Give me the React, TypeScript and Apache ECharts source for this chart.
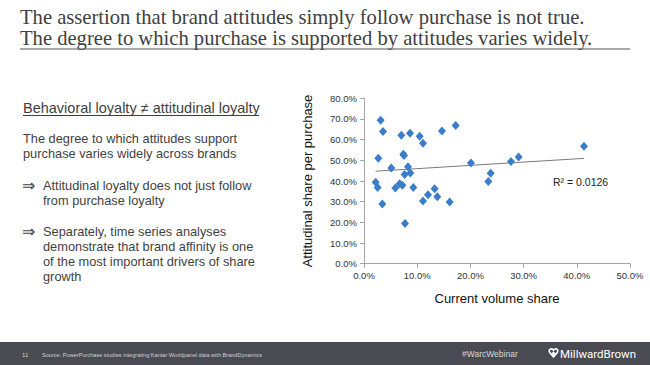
import React, { useEffect, useRef } from "react";
import * as echarts from "echarts";

const volumeShare: number[] = [
  3.13, 3.57, 2.69, 2.19, 2.57, 3.45, 5.14, 5.89, 6.7, 7.21, 7.02, 8.65, 7.39, 7.52, 7.64, 8.27, 8.71,
  9.27, 7.71, 10.46, 11.09, 11.09, 12.03, 13.28, 13.78, 14.66, 16.1, 17.23, 20.11, 23.37, 23.81, 27.63,
  29.07, 41.35,
];
const attitudinalShare: number[] = [
  69.4, 64.0, 51.0, 39.4, 36.8, 28.9, 46.3, 36.6, 38.7, 37.9, 62.1, 63.1, 52.9, 52.3, 43.2, 46.9, 43.9,
  36.8, 19.5, 61.6, 58.2, 30.3, 33.4, 36.3, 32.4, 64.2, 29.8, 66.9, 48.7, 39.7, 43.7, 49.4, 51.6, 56.8,
];
const rSquaredLabel = "R² = 0.0126";
const titleLines = [
  "The assertion that brand attitudes simply follow purchase is not true.",
  "The degree to which purchase is supported by attitudes varies widely.",
];
const heading = "Behavioral loyalty ≠ attitudinal loyalty";
const paragraph = ["The degree to which attitudes support", "purchase varies widely across brands"];
const bullet1 = ["Attitudinal loyalty does not just follow", "from purchase loyalty"];
const bullet2 = [
  "Separately, time series analyses",
  "demonstrate that brand affinity is one",
  "of the most important drivers of share",
  "growth",
];
const footerSource = "Source: PowerPurchase studies integrating Kantar Worldpanel data with BrandDynamics";

function regression(xs: number[], ys: number[]) {
  const n = xs.length;
  const mx = xs.reduce((a, b) => a + b, 0) / n;
  const my = ys.reduce((a, b) => a + b, 0) / n;
  let sxy = 0;
  let sxx = 0;
  for (let i = 0; i < n; i++) {
    sxy += (xs[i] - mx) * (ys[i] - my);
    sxx += (xs[i] - mx) * (xs[i] - mx);
  }
  const slope = sxy / sxx;
  return { slope, intercept: my - slope * mx };
}

const heartPath =
  "M10 3 C8 0 3 0 1.5 3 C0 6 3 9 10 15 C17 9 20 6 18.5 3 C17 0 12 0 10 3 Z";
echarts.graphic.registerShape("mbheart", echarts.graphic.extendPath(heartPath, {}) as any);

export default function App() {
  const ref = useRef<HTMLDivElement>(null);
  useEffect(() => {
    if (!ref.current) return;
    const chart = echarts.init(ref.current, undefined, { renderer: "svg" });
    const points = volumeShare.map((x, i) => [x, attitudinalShare[i]]);
    const { slope, intercept } = regression(volumeShare, attitudinalShare);
    const xMin = Math.min(...volumeShare);
    const xMax = Math.max(...volumeShare);
    const trend = [
      [xMin, intercept + slope * xMin],
      [xMax, intercept + slope * xMax],
    ];
    const textColor = "#3f3f3f";
    const sans = "Liberation Sans, Arial, sans-serif";
    const bodyLine = (t: string, x: number, y: number, size = 12.8) => ({
      type: "text",
      left: x,
      top: y,
      style: { text: t, font: `${size}px ${sans}`, fill: textColor },
    });
    const graphics: any[] = [
      {
        type: "text",
        left: 20,
        top: 6,
        style: { text: titleLines[0], font: "20.6px Liberation Serif, serif", fill: "#404040" },
      },
      {
        type: "text",
        left: 20,
        top: 27,
        style: { text: titleLines[1], font: "20.6px Liberation Serif, serif", fill: "#404040" },
      },
      {
        type: "line",
        shape: { x1: 20, y1: 49, x2: 630, y2: 49 },
        style: { stroke: "#555", lineWidth: 1.2 },
      },
      {
        type: "text",
        left: 23,
        top: 100,
        style: { text: heading, font: `14.5px ${sans}`, fill: textColor },
      },
      {
        type: "line",
        shape: { x1: 23, y1: 115.5, x2: 259, y2: 115.5 },
        style: { stroke: textColor, lineWidth: 1 },
      },
      bodyLine(paragraph[0], 23, 132),
      bodyLine(paragraph[1], 23, 147),
      bodyLine("⇒", 22, 177, 16),
      bodyLine(bullet1[0], 43, 179),
      bodyLine(bullet1[1], 43, 194),
      bodyLine("⇒", 22, 223, 16),
      bodyLine(bullet2[0], 43, 225),
      bodyLine(bullet2[1], 43, 240),
      bodyLine(bullet2[2], 43, 255),
      bodyLine(bullet2[3], 43, 270),
      {
        type: "text",
        left: 553,
        top: 176,
        style: { text: rSquaredLabel, font: `10.5px ${sans}`, fill: "#222" },
      },
      {
        type: "rect",
        shape: { x: 0, y: 342, width: 650, height: 23 },
        style: { fill: "#4a4a52" },
      },
      {
        type: "text",
        left: 22,
        top: 351.5,
        style: { text: "11", font: `6px ${sans}`, fill: "#d0d0d0" },
      },
      {
        type: "text",
        left: 42,
        top: 351.5,
        style: { text: footerSource, font: `5.6px ${sans}`, fill: "#d0d0d0" },
      },
      {
        type: "text",
        left: 462,
        top: 349.5,
        style: { text: "#WarcWebinar", font: `8.5px ${sans}`, fill: "#d8d8d8" },
      },
      {
        type: "mbheart",
        x: 548.5,
        y: 348.5,
        scaleX: 0.5,
        scaleY: 0.55,
        style: { fill: "none", stroke: "#ffffff", lineWidth: 3.2 },
      },
      {
        type: "polygon",
        shape: { points: [[553.5, 351.5], [556, 353.5], [553.5, 355.5], [551, 353.5]] },
        style: { fill: "#ffffff" },
      },
      {
        type: "text",
        left: 560,
        top: 347.5,
        style: { text: "MillwardBrown", font: `400 11.5px Roboto, sans-serif`, fill: "#ffffff" },
      },
    ];
    chart.setOption({
      animation: false,
      backgroundColor: "#ffffff",
      grid: { left: 364, top: 98.3, right: 20, bottom: 101.3, containLabel: false },
      xAxis: {
        type: "value",
        min: 0,
        max: 50,
        interval: 10,
        name: "Current volume share",
        nameLocation: "middle",
        nameGap: 28,
        nameTextStyle: { fontFamily: sans, fontSize: 13, color: "#111" },
        axisLine: { show: true, lineStyle: { color: "#a6a6a6" } },
        axisTick: { show: true, length: 4, lineStyle: { color: "#a6a6a6" } },
        splitLine: { show: false },
        axisLabel: {
          formatter: (v: number) => `${v.toFixed(1)}%`,
          fontFamily: sans,
          fontSize: 9.5,
          color: "#333",
          margin: 7,
        },
      },
      yAxis: {
        type: "value",
        min: 0,
        max: 80,
        interval: 10,
        name: "Attitudinal share per purchase",
        nameLocation: "middle",
        nameGap: 50,
        nameRotate: 90,
        nameTextStyle: { fontFamily: sans, fontSize: 13, color: "#111" },
        axisLine: { show: true, lineStyle: { color: "#a6a6a6" } },
        axisTick: { show: true, length: 4, lineStyle: { color: "#a6a6a6" } },
        splitLine: { show: false },
        axisLabel: {
          formatter: (v: number) => `${v.toFixed(1)}%`,
          fontFamily: sans,
          fontSize: 9.5,
          color: "#333",
          margin: 7,
        },
      },
      series: [
        {
          type: "line",
          data: trend,
          symbol: "none",
          lineStyle: { color: "#7a7a7a", width: 1 },
          z: 1,
        },
        {
          type: "scatter",
          data: points,
          symbol: "diamond",
          symbolSize: [8, 9],
          itemStyle: { color: "#3a7dc8", opacity: 1 },
          z: 2,
        },
      ],
      graphic: graphics,
    });
    return () => chart.dispose();
  }, []);
  return (
    <div
      ref={ref}
      style={{ position: "fixed", left: 0, top: 0, width: 650, height: 365, background: "#fff" }}
    />
  );
}
